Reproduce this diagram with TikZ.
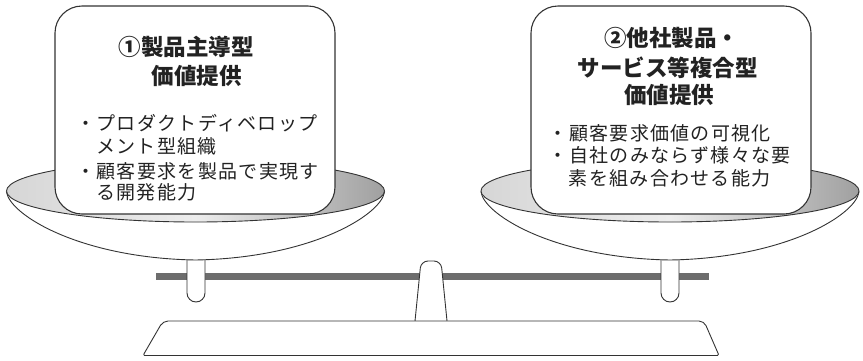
\documentclass[tikz,border=0pt]{standalone}
\usepackage{fontspec}
\newfontfamily\jphead{Noto Sans CJK JP}
\newfontfamily\jpbody[LetterSpace=7]{Noto Sans CJK JP}
\definecolor{ink}{HTML}{222222}
\definecolor{edge}{HTML}{333333}
\definecolor{beamgray}{HTML}{6D6D6D}
\definecolor{rimL}{HTML}{D6D6D6}
\definecolor{rimM}{HTML}{EDEDED}
\definecolor{rimR}{HTML}{A0A0A0}
\tikzset{
  outline/.style={draw=edge, line width=0.9pt, fill=white},
  card/.style={draw=edge, line width=1.1pt, fill=white, rounded corners=27pt},
  head/.style={anchor=west, inner sep=0pt, text=ink, font=\jphead\bfseries\fontsize{22.5}{26}\selectfont},
  body/.style={anchor=west, inner sep=0pt, text=ink, font=\jpbody\fontsize{19}{22}\selectfont},
  rim/.style={draw=edge, line width=0.9pt, left color=rimL, right color=rimR, middle color=rimM},
}
\begin{document}
\begin{tikzpicture}[x=1pt,y=-1pt]
\useasboundingbox (0,0) rectangle (863,360);
% beam
\draw[beamgray, line width=6.5pt] (156,276.7) -- (709,276.7);
% stems
\draw[outline, rounded corners=9pt] (187,250) -- (187,302) -- (205,302) -- (205,250);
\draw[outline, rounded corners=9pt] (661,250) -- (661,302) -- (679,302) -- (679,250);
% post
\draw[outline, rounded corners=7pt] (415,321) -- (421,261) -- (441,261) -- (447,321);
% base
\draw[outline, line join=round] (143,355.5) [rounded corners=5pt] -- (163,321) -- (704,321) [rounded corners=1.5pt] -- (719,355.5) -- cycle;
% left pan
\draw[outline] (6.5,192) .. controls (10,215) and (80,258) .. (195.5,260)
   .. controls (311,258) and (381,215) .. (384.5,192) -- cycle;
\draw[rim] (195.5,191) ellipse [x radius=189, y radius=31];
% right pan
\draw[outline] (481,192) .. controls (484.5,215) and (554.5,258) .. (670,260)
   .. controls (785.5,258) and (855.5,215) .. (859,192) -- cycle;
\draw[rim] (670,191) ellipse [x radius=189, y radius=31];
% cards
\draw[card] (55,6) rectangle (335,214);
\draw[card] (531,6) rectangle (811,214);
% left text
\node[head] (lh1) at (118.3,47) {①製品主導型};
\node[head] (lh2) at (151.7,76) {価値提供};
\node[body] (lb1) at (76,123.5) {・プロダクトディベロップ};
\node[body] (lb2) at (96,146.5) {メント型組織};
\node[body] (lb3) at (76,171) {・顧客要求を製品で実現す};
\node[body] (lb4) at (96,192.5) {る開発能力};
% right text
\node[head] (rh1) at (604,38) {②他社製品・};
\node[head] (rh2) at (577.7,68) {サービス等複合型};
\node[head] (rh3) at (624,95) {価値提供};
\node[body] (rb1) at (548.5,133.3) {・顧客要求価値の可視化};
\node[body] (rb2) at (548.5,155.5) {・自社のみならず様々な要};
\node[body] (rb3) at (568.5,178.3) {素を組み合わせる能力};
\end{tikzpicture}
\end{document}
